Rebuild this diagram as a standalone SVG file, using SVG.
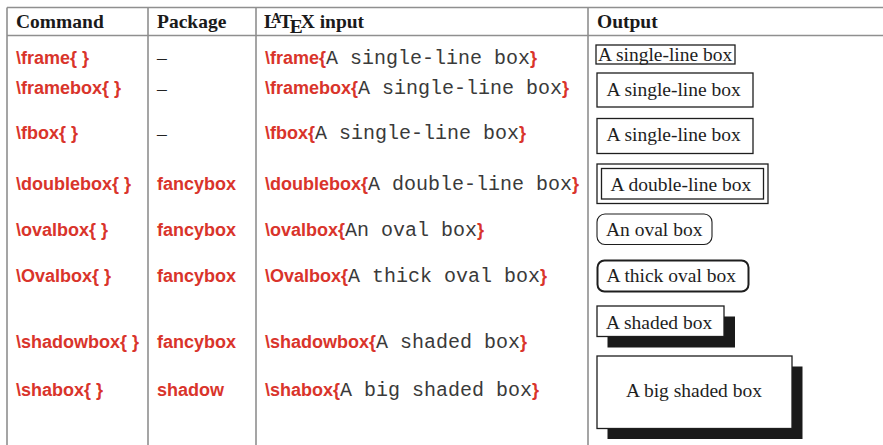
<svg xmlns="http://www.w3.org/2000/svg" width="883" height="445" viewBox="0 0 883 445">
<style>
.hdr{font-family:"Liberation Serif","Times New Roman",serif;font-weight:bold;font-size:19.5px;fill:#1a1a1a}
.rb{font-family:"Liberation Sans",Arial,sans-serif;font-weight:bold;font-size:18px;fill:#d9342b}
.mono{font-family:"Liberation Mono","Courier New",monospace;font-size:20px;fill:#3a3a3a}
.out{font-family:"Liberation Serif","Times New Roman",serif;font-size:19.5px;fill:#1e1e1e}
.dash{font-family:"Liberation Serif","Times New Roman",serif;font-size:19.5px;fill:#222}
.grid line{stroke:#8f8f8f;stroke-width:1.6}
.bx{fill:#fff;stroke:#1e1e1e;stroke-width:1.3}
.shade{fill:#1a1a1a}
</style>
<rect width="883" height="445" fill="#fff"/>
<g id="grid" class="grid">
<line x1="7" y1="7.5" x2="883" y2="7.5"/>
<line x1="7" y1="35.5" x2="883" y2="35.5"/>
<line x1="7" y1="7.5" x2="7" y2="445"/>
<line x1="148" y1="7.5" x2="148" y2="445"/>
<line x1="256" y1="7.5" x2="256" y2="445"/>
<line x1="588" y1="7.5" x2="588" y2="445"/>
</g>
<g id="header">
<text class="hdr" x="16" y="28">Command</text>
<text class="hdr" x="157" y="28">Package</text>
<text class="hdr" x="264" y="28">L<tspan dx="-6" dy="-5" font-size="14">A</tspan><tspan dx="-2" dy="5">T</tspan><tspan dx="-2.5" dy="4.5">E</tspan><tspan dx="-2" dy="-4.5">X</tspan> input</text>
<text class="hdr" x="597" y="28">Output</text>
</g>
<g id="row-frame">
<text class="rb" x="16" y="64">\frame{ }</text>
<text class="dash" x="157" y="64">–</text>
<text x="265" y="64"><tspan class="rb">\frame{</tspan><tspan class="mono">A single-line box</tspan><tspan class="rb">}</tspan></text>
<rect class="bx" x="596" y="45" width="139" height="19"/>
<text class="out" x="598" y="61">A single-line box</text>
</g>
<g id="row-framebox">
<text class="rb" x="16" y="94">\framebox{ }</text>
<text class="dash" x="157" y="94.5">–</text>
<text x="265" y="94"><tspan class="rb">\framebox{</tspan><tspan class="mono">A single-line box</tspan><tspan class="rb">}</tspan></text>
<rect class="bx" x="597" y="73" width="156" height="34"/>
<text class="out" x="606.5" y="95.5">A single-line box</text>
</g>
<g id="row-fbox">
<text class="rb" x="16" y="139">\fbox{ }</text>
<text class="dash" x="157" y="139.5">–</text>
<text x="265" y="139"><tspan class="rb">\fbox{</tspan><tspan class="mono">A single-line box</tspan><tspan class="rb">}</tspan></text>
<rect class="bx" x="597" y="118.5" width="156" height="35"/>
<text class="out" x="606.5" y="140.5">A single-line box</text>
</g>
<g id="row-doublebox">
<text class="rb" x="16" y="190">\doublebox{ }</text>
<text class="rb" x="157" y="190">fancybox</text>
<text x="265" y="190"><tspan class="rb">\doublebox{</tspan><tspan class="mono">A double-line box</tspan><tspan class="rb">}</tspan></text>
<rect class="bx" x="597" y="164" width="171" height="39.5"/>
<rect class="bx" x="601.5" y="168.5" width="162" height="30.5"/>
<text class="out" x="610.5" y="190.5">A double-line box</text>
</g>
<g id="row-ovalbox">
<text class="rb" x="16" y="236">\ovalbox{ }</text>
<text class="rb" x="157" y="236">fancybox</text>
<text x="265" y="236"><tspan class="rb">\ovalbox{</tspan><tspan class="mono">An oval box</tspan><tspan class="rb">}</tspan></text>
<rect class="bx" x="597" y="214" width="115" height="30.5" rx="8" ry="8" style="stroke-width:1.1"/>
<text class="out" x="606" y="236">An oval box</text>
</g>
<g id="row-Ovalbox">
<text class="rb" x="16" y="282">\Ovalbox{ }</text>
<text class="rb" x="157" y="282">fancybox</text>
<text x="265" y="282"><tspan class="rb">\Ovalbox{</tspan><tspan class="mono">A thick oval box</tspan><tspan class="rb">}</tspan></text>
<rect class="bx" x="597.5" y="260.5" width="151" height="31" rx="7" ry="7" style="stroke-width:2"/>
<text class="out" x="606.5" y="282">A thick oval box</text>
</g>
<g id="row-shadowbox">
<text class="rb" x="16" y="348">\shadowbox{ }</text>
<text class="rb" x="157" y="348">fancybox</text>
<text x="265" y="348"><tspan class="rb">\shadowbox{</tspan><tspan class="mono">A shaded box</tspan><tspan class="rb">}</tspan></text>
<rect class="shade" x="607.5" y="316.5" width="127.5" height="31"/>
<rect class="bx" x="597" y="306" width="127" height="30.5"/>
<text class="out" x="606" y="328.5">A shaded box</text>
</g>
<g id="row-shabox">
<text class="rb" x="16" y="396">\shabox{ }</text>
<text class="rb" x="157" y="396">shadow</text>
<text x="265" y="396"><tspan class="rb">\shabox{</tspan><tspan class="mono">A big shaded box</tspan><tspan class="rb">}</tspan></text>
<rect class="shade" x="607.5" y="366.5" width="195" height="72.5"/>
<rect class="bx" x="597" y="356" width="195" height="72.5"/>
<text class="out" x="694" y="397" text-anchor="middle">A big shaded box</text>
</g>
</svg>
